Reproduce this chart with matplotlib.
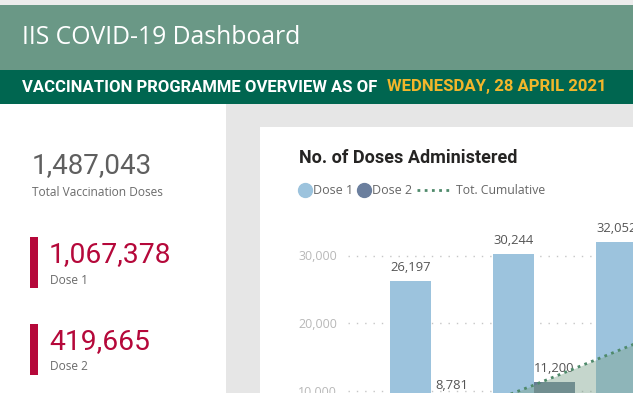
import numpy as np
import matplotlib.pyplot as plt
from matplotlib.patches import Rectangle
from matplotlib.lines import Line2D
from matplotlib.ticker import FuncFormatter

# values
kpi_total = 1487043
kpi_dose1 = 1067378
kpi_dose2 = 419665

dose1 = [26197, 30244, 32052]
dose2 = [8781, 11200, 12060]
cumulative = np.cumsum(np.array(dose1) + np.array(dose2))
yticks = [10000, 20000, 30000]

W, H = 633, 393
SEG = ['Open Sans', 'DejaVu Sans']
DIN = ['Roboto', 'DejaVu Sans']

c_dose1 = '#9cc3dd'
c_dose2 = '#667d92'
c_cum = '#4f8a6b'
c_red = '#b5083a'


def fx(x):
    return x / W


def fy(y):
    return 1 - y / H


def box(x0, y0, x1, y1, color):
    # background block in pixel coords (y from top)
    fig.add_artist(Rectangle((fx(x0), fy(y1)), (x1 - x0) / W, (y1 - y0) / H,
                             transform=fig.transFigure, color=color, lw=0, zorder=-5))


fig = plt.figure(figsize=(6.33, 3.93), dpi=100)
fig.patch.set_facecolor('white')

# header bands
box(0, 0, W, 5, '#ececec')
box(0, 5, W, 70, '#6a9886')
box(0, 70, W, 104, '#006650')
fig.text(fx(22), fy(38), 'IIS COVID-19 Dashboard', color='white', fontsize=17.8,
         family=SEG, va='center', ha='left')
fig.text(fx(22), fy(87), 'VACCINATION PROGRAMME OVERVIEW AS OF', color='white',
         fontsize=12, weight='bold', family=DIN, va='center')
fig.text(fx(387), fy(87), 'WEDNESDAY, 28 APRIL 2021', color='#f2b62b',
         fontsize=12.1, weight='bold', family=DIN, va='center')

# right grey area + white card
box(226, 104, W, H, '#e6e6e6')
box(260, 127, W, H, 'white')

# KPI cards on the left
fig.text(fx(32), fy(166), f'{kpi_total:,}', color='#5f5f5f', fontsize=20, family=DIN, va='center')
fig.text(fx(32), fy(193), 'Total Vaccination Doses', color='#6b6b6b', fontsize=8.6, family=SEG, va='center')
for top, val, lab in [(237, kpi_dose1, 'Dose 1'), (324, kpi_dose2, 'Dose 2')]:
    box(30, top, 38, top + 51, c_red)
    fig.text(fx(49), fy(top + 18), f'{val:,}', color=c_red, fontsize=20.3, family=DIN, va='center')
    fig.text(fx(50), fy(top + 43), lab, color='#6b6b6b', fontsize=8.6, family=SEG, va='center')

# chart title and legend
fig.text(fx(299), fy(158), 'No. of Doses Administered', color='#252423', fontsize=13,
         weight='bold', family=DIN, va='center')
leg_y = fy(190)
fig.add_artist(Line2D([fx(305)], [leg_y], marker='o', ms=10, color=c_dose1, ls='none',
                      transform=fig.transFigure))
fig.text(fx(313), leg_y, 'Dose 1', color='#666666', fontsize=9, family=SEG, va='center')
fig.add_artist(Line2D([fx(364)], [leg_y], marker='o', ms=10, color='#6b7f9e', ls='none',
                      transform=fig.transFigure))
fig.text(fx(372), leg_y, 'Dose 2', color='#666666', fontsize=9, family=SEG, va='center')
fig.add_artist(Line2D([fx(417), fx(452)], [leg_y, leg_y], color=c_cum, lw=2, ls=(0, (1, 1.6)),
                      transform=fig.transFigure))
fig.text(fx(456), leg_y, 'Tot. Cumulative', color='#666666', fontsize=8.8, family=SEG, va='center')

# chart axes (extends past the cropped edges)
xl, xr = -0.806, 2.8
px_per_cat = 103
y_top = 35000
px_per_unit = 67.5 / 10000
left_px, base_px = 348, 458
ax = fig.add_axes([fx(left_px), fy(base_px), (xr - xl) * px_per_cat / W,
                   y_top * px_per_unit / H])
ax.set_facecolor('none')
x = np.arange(len(dose1))
bw = 41 / px_per_cat
ax.bar(x - bw / 2, dose1, width=bw, color=c_dose1, zorder=2)
ax.bar(x + bw / 2, dose2, width=bw, color=c_dose2, zorder=2)
for xi, v in zip(x - bw / 2, dose1):
    ax.annotate(f'{v:,}', (xi, v), xytext=(0, 5), textcoords='offset points', ha='center',
                va='bottom', fontsize=9.4, color='#555555', family=SEG)
for xi, v in zip(x + bw / 2, dose2):
    ax.annotate(f'{v:,}', (xi, v), xytext=(0, 5), textcoords='offset points', ha='center',
                va='bottom', fontsize=9.4, color='#555555', family=SEG)
ax.set_xlim(xl, xr)
ax.set_ylim(0, y_top)
ax.set_yticks(yticks)
ax.yaxis.set_major_formatter(FuncFormatter(lambda v, p: f'{v:,.0f}'))
ax.tick_params(axis='y', length=0, pad=8, labelsize=9, labelcolor='#b8b8b8')
for lbl in ax.get_yticklabels():
    lbl.set_family(SEG)
ax.set_xticks([])
ax.grid(axis='y', color='#c6c6c6', lw=1, ls=(0, (1, 5)))
ax.set_axisbelow(True)
for s in ax.spines.values():
    s.set_visible(False)

ax2 = ax.twinx()
ax2.set_ylim(0, y_top * 7.07)
ax2.fill_between(x, cumulative, color='#7fa48e', alpha=0.45, lw=0, zorder=3)
ax2.plot(x, cumulative, color=c_cum, lw=2, ls=(0, (1, 1.6)), zorder=4)
ax2.set_yticks([])
for s in ax2.spines.values():
    s.set_visible(False)

fig.savefig('out.png', dpi=100)
